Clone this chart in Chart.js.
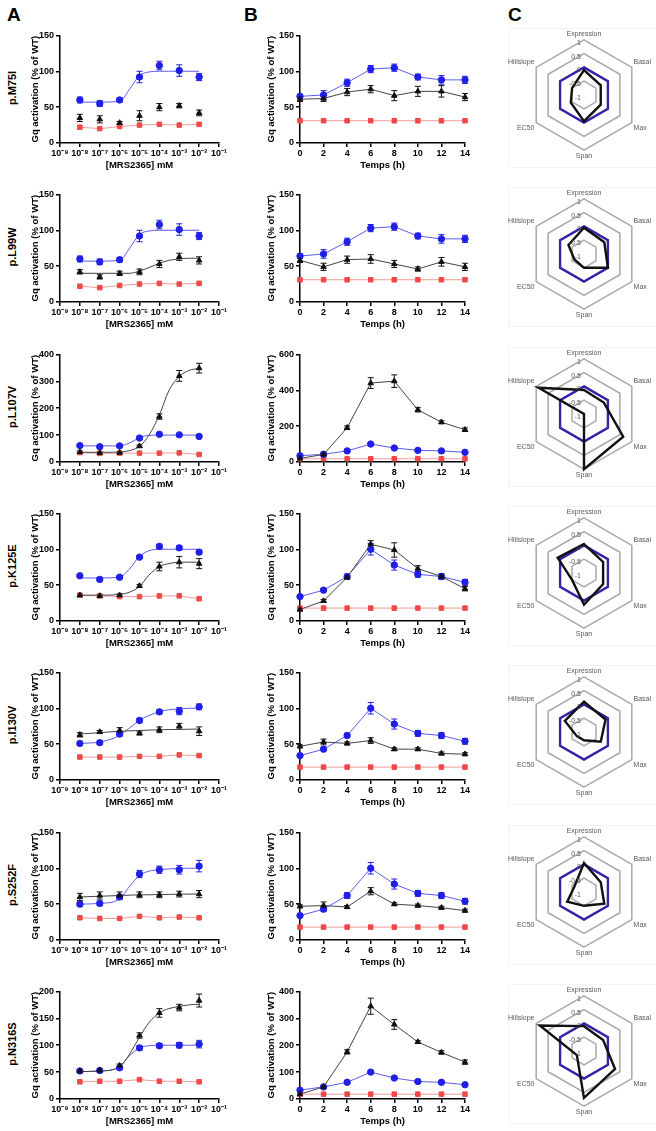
<!DOCTYPE html>
<html>
<head>
<meta charset="utf-8">
<script src="https://cdn.jsdelivr.net/npm/chart.js@4.4.0/dist/chart.umd.min.js"></script>
<style>
  body { margin: 0; background: #fff; }
  #fig { position: relative; width: 656px; height: 1131px; overflow: hidden; font-family: Arial, "Liberation Sans", sans-serif; }
  #fig canvas { position: absolute; }
  .panel { position: absolute; font-weight: bold; font-size: 19px; line-height: 19px; }
  .rowlab { position: absolute; font-weight: bold; font-size: 11px; transform: translate(-50%, -50%) rotate(-90deg); white-space: nowrap; }
  .rbox { position: absolute; border: 1px solid #f3f3f3; }
</style>
</head>
<body>
<div id="fig"></div>
<script>
// ---- data ----
const variants = ['p.M75I', 'p.L99W', 'p.L107V', 'p.K125E', 'p.I130V', 'p.S252F', 'p.N316S'];

const doses = [1e-8, 1e-7, 1e-6, 1e-5, 1e-4, 1e-3, 1e-2];
const doseTicks = [1e-9, 1e-8, 1e-7, 1e-6, 1e-5, 1e-4, 1e-3, 1e-2, 1e-1];
const doseTickLabels = ['10⁻⁹', '10⁻⁸', '10⁻⁷', '10⁻⁶', '10⁻⁵', '10⁻⁴', '10⁻³', '10⁻²', '10⁻¹'];
const doseMax = [150, 150, 400, 150, 150, 150, 200];
const doseStep = [50, 50, 100, 50, 50, 50, 50];

// WT (blue circles)
const doseWT = [
  [60, 55, 60, 92, 108, 101, 92],
  [60, 56, 59, 92, 108, 101, 92],
  [61, 57, 60, 89, 103, 101, 95],
  [63, 58, 61, 89, 104, 102, 96],
  [51, 52, 64, 83, 95, 96, 102],
  [50, 51, 60, 92, 98, 98, 103],
  [52, 53, 58, 95, 99, 100, 102]
];
const doseWTErr = [
  [4, 4, 3, 8, 6, 8, 5],
  [4, 4, 3, 8, 6, 8, 5],
  [3, 3, 3, 4, 3, 3, 3],
  [2, 2, 2, 2, 3, 3, 3],
  [2, 2, 3, 3, 3, 5, 4],
  [3, 3, 3, 5, 5, 6, 8],
  [2, 2, 3, 4, 4, 5, 7]
];
// variant (black triangles)
const doseMut = [
  [35, 33, 28, 38, 50, 52, 42],
  [42, 35, 40, 42, 53, 63, 58],
  [37, 34, 35, 59, 169, 320, 349],
  [36, 35, 36, 49, 76, 82, 80],
  [63, 67, 69, 65, 70, 75, 68],
  [60, 62, 62, 63, 63, 64, 64],
  [52, 53, 62, 118, 160, 170, 183]
];
const doseMutErr = [
  [5, 5, 2, 7, 5, 3, 4],
  [3, 3, 3, 4, 5, 5, 5],
  [3, 3, 3, 4, 10, 20, 18],
  [2, 2, 2, 2, 6, 8, 7],
  [3, 2, 4, 2, 4, 4, 6],
  [5, 5, 5, 4, 4, 4, 5],
  [2, 2, 3, 5, 8, 6, 12]
];
// mock (red squares)
const doseMock = [
  [22, 20, 23, 25, 26, 25, 26],
  [22, 20, 23, 25, 26, 25, 26],
  [35, 32, 33, 33, 33, 34, 28],
  [36, 35, 34, 34, 35, 35, 31],
  [32, 32, 32, 33, 33, 35, 34],
  [31, 30, 30, 33, 31, 32, 31],
  [32, 33, 33, 36, 33, 33, 32]
];

// fitted curves at these doses
const fitDoses = [1e-8, 1e-7, 1e-6, 3e-6, 1e-5, 3e-5, 1e-4, 3e-4, 1e-3, 3e-3, 1e-2];
const fitWT = [
  [57, 57, 58, 74, 94, 99, 100, 100, 100, 100, 100],
  [57, 57, 58, 74, 94, 99, 100, 100, 100, 100, 100],
  [60, 60, 60, 70, 90, 99, 100, 100, 100, 100, 100],
  [60, 60, 61, 72, 90, 98, 100, 100, 100, 100, 100],
  [51, 53, 62, 72, 83, 90, 95, 98, 99, 100, 100],
  [50, 51, 57, 74, 90, 96, 98, 99, 100, 100, 100],
  [51, 52, 60, 80, 95, 99, 100, 100, 100, 100, 100]
];
const fitMut = [
  null,
  [40, 40, 40, 40, 43, 48, 54, 58, 60, 61, 61],
  [36, 36, 37, 42, 58, 100, 175, 265, 318, 340, 348],
  [36, 36, 37, 40, 48, 64, 76, 80, 82, 82, 82],
  [64, 66, 68, 68.5, 69, 69.5, 70, 70.3, 70.5, 70.8, 71],
  [60, 61, 62, 62.5, 63, 63, 63.5, 63.5, 64, 64, 64],
  [51, 52, 60, 82, 115, 142, 160, 168, 172, 175, 176]
];

const hours = [0, 2, 4, 6, 8, 10, 12, 14];
const timeMax = [150, 150, 600, 150, 150, 150, 400];
const timeStep = [50, 50, 200, 50, 50, 50, 100];
const timeWT = [
  [65, 67, 84, 103, 105, 92, 88, 88],
  [64, 67, 84, 103, 105, 92, 88, 88],
  [35, 43, 62, 100, 78, 65, 62, 54],
  [34, 43, 62, 100, 78, 65, 62, 54],
  [34, 43, 62, 100, 78, 65, 62, 54],
  [34, 43, 62, 100, 78, 65, 62, 54],
  [33, 45, 62, 100, 78, 65, 62, 53]
];
const timeWTErr = [
  [3, 6, 5, 5, 5, 4, 6, 5],
  [3, 6, 5, 5, 5, 4, 6, 5],
  [3, 3, 4, 6, 5, 4, 4, 4],
  [2, 2, 3, 8, 7, 4, 4, 4],
  [2, 2, 3, 8, 7, 4, 4, 4],
  [2, 3, 4, 8, 7, 4, 4, 4],
  [2, 3, 4, 6, 5, 4, 4, 4]
];
const timeMut = [
  [61, 62, 71, 75, 66, 72, 72, 64],
  [58, 49, 59, 60, 53, 46, 56, 49],
  [20, 42, 191, 440, 451, 291, 222, 180],
  [16, 28, 61, 107, 99, 73, 62, 45],
  [47, 53, 51, 55, 43, 43, 37, 36],
  [47, 48, 46, 68, 50, 48, 45, 41],
  [18, 45, 175, 345, 277, 212, 173, 137]
];
const timeMutErr = [
  [3, 4, 5, 5, 7, 7, 8, 5],
  [3, 5, 5, 6, 5, 3, 6, 5],
  [3, 4, 10, 30, 35, 12, 8, 10],
  [2, 2, 3, 5, 10, 4, 3, 3],
  [2, 4, 2, 4, 2, 2, 2, 2],
  [2, 5, 2, 5, 2, 2, 2, 2],
  [2, 3, 8, 30, 18, 5, 6, 8]
];
const timeMock = [
  [31, 31, 31, 31, 31, 31, 31, 31],
  [31, 31, 31, 31, 31, 31, 31, 31],
  [18, 18, 18, 18, 18, 18, 18, 18],
  [18, 18, 18, 18, 18, 18, 18, 18],
  [18, 18, 18, 18, 18, 18, 18, 18],
  [18, 18, 18, 18, 18, 18, 18, 18],
  [18, 18, 18, 18, 18, 18, 18, 18]
];

const radarAxes = ['Expression', 'Basal', 'Max', 'Span', 'EC50', 'Hillslope'];
const radarTicks = [-1, -0.5, 0, 0.5, 1];
const radarWT = [0, 0, 0, 0, 0, 0];
const radarMut = [
  [-0.1, -0.3, -0.3, -0.05, -0.45, -0.5],
  [-0.05, -0.15, 0, -0.5, -0.6, -0.35],
  [-0.13, -0.17, 0.64, 1.0, -1, 0.9],
  [0.05, -0.2, -0.2, 0.15, -0.5, 0.1],
  [0.1, -0.1, -0.3, -0.7, -0.7, -0.2],
  [0.05, -0.3, -0.15, -0.5, -0.3, -0.6],
  [-0.1, -0.2, 0.3, 0.7, -0.7, 0.85]
];

// ---- styles ----
const FAM = 'Arial, "Liberation Sans", sans-serif';
const tickFont = { family: FAM, size: 9, weight: 'bold' };
const titleFont = { family: FAM, size: 9.5, weight: 'bold' };
const BLUE = '#1f1fe6', BLUE_L = '#5b5bee';
const BLACK = '#111111', BLACK_L = '#444444';
const RED = '#f04848', RED_L = '#f29a9a';

const fig = document.getElementById('fig');
function rowTop(i) { return Math.round(34 + i * 159.3); }

function addCanvas(left, top, w, h) {
  const c = document.createElement('canvas');
  c.width = w; c.height = h;
  c.style.left = left + 'px'; c.style.top = top + 'px';
  c.style.width = w + 'px'; c.style.height = h + 'px';
  fig.appendChild(c);
  return c;
}
function addDiv(cls, text, css) {
  const d = document.createElement('div');
  d.className = cls;
  d.textContent = text;
  Object.assign(d.style, css);
  fig.appendChild(d);
  return d;
}

// error bars drawn under the markers
const errorBars = {
  id: 'errorBars',
  beforeDatasetsDraw(chart) {
    const ctx = chart.ctx;
    chart.data.datasets.forEach((ds, di) => {
      if (!ds.errors) return;
      const meta = chart.getDatasetMeta(di);
      const ys = chart.scales[meta.yAxisID];
      ctx.save();
      ctx.strokeStyle = ds.errColor;
      ctx.lineWidth = 1;
      meta.data.forEach((pt, k) => {
        const e = ds.errors[k];
        if (!e) return;
        const v = ds.data[k].y;
        const yt = ys.getPixelForValue(v + e), yb = ys.getPixelForValue(v - e);
        ctx.beginPath();
        ctx.moveTo(pt.x, yt); ctx.lineTo(pt.x, yb);
        ctx.moveTo(pt.x - 3, yt); ctx.lineTo(pt.x + 3, yt);
        ctx.moveTo(pt.x - 3, yb); ctx.lineTo(pt.x + 3, yb);
        ctx.stroke();
      });
      ctx.restore();
    });
  }
};

function markers(xs, ys, errs, color, style, showLine, lineColor, order) {
  return {
    data: xs.map((x, k) => ({ x: x, y: ys[k] })),
    errors: errs, errColor: color,
    pointStyle: style, pointRadius: 3.2, pointHoverRadius: 3.2,
    pointBackgroundColor: color, pointBorderColor: color, pointBorderWidth: 1,
    borderColor: lineColor, borderWidth: 1, showLine: showLine,
    order: order, clip: false
  };
}
function curve(xs, ys, color, order) {
  return {
    data: xs.map((x, k) => ({ x: x, y: ys[k] })),
    pointRadius: 0, borderColor: color, borderWidth: 1,
    cubicInterpolationMode: 'monotone', order: order, clip: false
  };
}

function axisCommon() {
  return {
    grid: { drawOnChartArea: false, color: '#000', lineWidth: 1.5, tickLength: 4 },
    border: { color: '#000', width: 1.5 }
  };
}

function doseChart(i) {
  const y0 = rowTop(i);
  const c = addCanvas(30, y0 - 6, 201, 151);
  const ds = [];
  ds.push(markers(doses, doseMock[i], null, RED, 'rect', true, RED_L, 5));
  ds.push(markers(doses, doseMut[i], doseMutErr[i], BLACK, 'triangle', false, BLACK_L, 1));
  if (fitMut[i]) ds.push(curve(fitDoses, fitMut[i], BLACK_L, 3));
  ds.push(markers(doses, doseWT[i], doseWTErr[i], BLUE, 'circle', false, BLUE_L, 2));
  ds.push(curve(fitDoses, fitWT[i], BLUE_L, 4));
  new Chart(c.getContext('2d'), {
    type: 'line',
    data: { datasets: ds },
    plugins: [errorBars],
    options: {
      responsive: false, animation: false,
      layout: { padding: { top: 6, right: 12, left: 0, bottom: 0 } },
      plugins: { legend: { display: false }, tooltip: { enabled: false } },
      scales: {
        x: Object.assign(axisCommon(), {
          type: 'logarithmic', min: 1e-9, max: 1e-1,
          afterBuildTicks: s => { s.ticks = doseTicks.map(v => ({ value: v })); },
          afterFit: s => { s.height = 36; },
          ticks: { callback: (v, k) => doseTickLabels[k], font: tickFont, color: '#000', padding: 1, maxRotation: 0, autoSkip: false },
          title: { display: true, text: '[MRS2365] mM', font: titleFont, color: '#000', padding: { top: 0, bottom: 8 } }
        }),
        y: Object.assign(axisCommon(), {
          min: 0, max: doseMax[i],
          afterFit: s => { s.width = 30; },
          ticks: { stepSize: doseStep[i], font: tickFont, color: '#000', padding: 2 },
          title: { display: true, text: 'Gq activation (% of WT)', font: titleFont, color: '#000', padding: { top: 0, bottom: 0 } }
        })
      }
    }
  });
}

function timeChart(i) {
  const y0 = rowTop(i);
  const c = addCanvas(266, y0 - 6, 211, 151);
  const ds = [
    markers(hours, timeMock[i], null, RED, 'rect', true, RED_L, 3),
    markers(hours, timeMut[i], timeMutErr[i], BLACK, 'triangle', true, BLACK_L, 1),
    markers(hours, timeWT[i], timeWTErr[i], BLUE, 'circle', true, BLUE_L, 2)
  ];
  new Chart(c.getContext('2d'), {
    type: 'line',
    data: { datasets: ds },
    plugins: [errorBars],
    options: {
      responsive: false, animation: false,
      layout: { padding: { top: 6, right: 12, left: 0, bottom: 0 } },
      plugins: { legend: { display: false }, tooltip: { enabled: false } },
      scales: {
        x: Object.assign(axisCommon(), {
          type: 'linear', min: 0, max: 14,
          afterFit: s => { s.height = 36; },
          ticks: { stepSize: 2, font: tickFont, color: '#000', padding: 1, maxRotation: 0, autoSkip: false },
          title: { display: true, text: 'Temps (h)', font: titleFont, color: '#000', padding: { top: 0, bottom: 8 } }
        }),
        y: Object.assign(axisCommon(), {
          min: 0, max: timeMax[i],
          afterFit: s => { s.width = 34; },
          ticks: { stepSize: timeStep[i], font: tickFont, color: '#000', padding: 2 },
          title: { display: true, text: 'Gq activation (% of WT)', font: titleFont, color: '#000', padding: { top: 0, bottom: 0 } }
        })
      }
    }
  });
}

// tick labels of the radar, drawn left of the vertical axis
const radarTickLabels = {
  id: 'radarTickLabels',
  afterDatasetsDraw(chart) {
    const r = chart.scales.r, ctx = chart.ctx;
    ctx.save();
    ctx.font = '7px ' + FAM;
    ctx.fillStyle = '#555';
    ctx.textAlign = 'right';
    ctx.textBaseline = 'middle';
    radarTicks.forEach(v => {
      const d = r.getDistanceFromCenterForValue(v);
      ctx.fillText(String(v), r.xCenter - 3, r.yCenter - d + 3);
    });
    ctx.restore();
  }
};

function radarChart(i) {
  const y0 = rowTop(i);
  addDiv('rbox', '', { left: '508px', top: (y0 - 6) + 'px', width: '150px', height: '138px' });
  const c = addCanvas(503, y0 - 11, 153, 146);
  new Chart(c.getContext('2d'), {
    type: 'radar',
    data: {
      labels: radarAxes,
      datasets: [
        { data: radarMut[i], borderColor: '#111', borderWidth: 2.4, pointRadius: 0, fill: false },
        { data: radarWT, borderColor: '#3a1fa8', borderWidth: 2.4, pointRadius: 0, fill: false }
      ]
    },
    plugins: [radarTickLabels],
    options: {
      responsive: false, animation: false,
      layout: { padding: 0 },
      plugins: { legend: { display: false }, tooltip: { enabled: false } },
      scales: {
        r: {
          min: -1, max: 1,
          ticks: { stepSize: 0.5, display: false },
          grid: { color: '#a8a8a8', lineWidth: 1.5 },
          angleLines: { display: false },
          pointLabels: { font: { family: FAM, size: 7 }, color: '#595959', padding: 2 }
        }
      }
    }
  });
}

addDiv('panel', 'A', { left: '7px', top: '5px' });
addDiv('panel', 'B', { left: '244px', top: '5px' });
addDiv('panel', 'C', { left: '508px', top: '5px' });

variants.forEach((name, i) => {
  addDiv('rowlab', name, { left: '12px', top: (rowTop(i) + 54) + 'px' });
  doseChart(i);
  timeChart(i);
  radarChart(i);
});
</script>
</body>
</html>
